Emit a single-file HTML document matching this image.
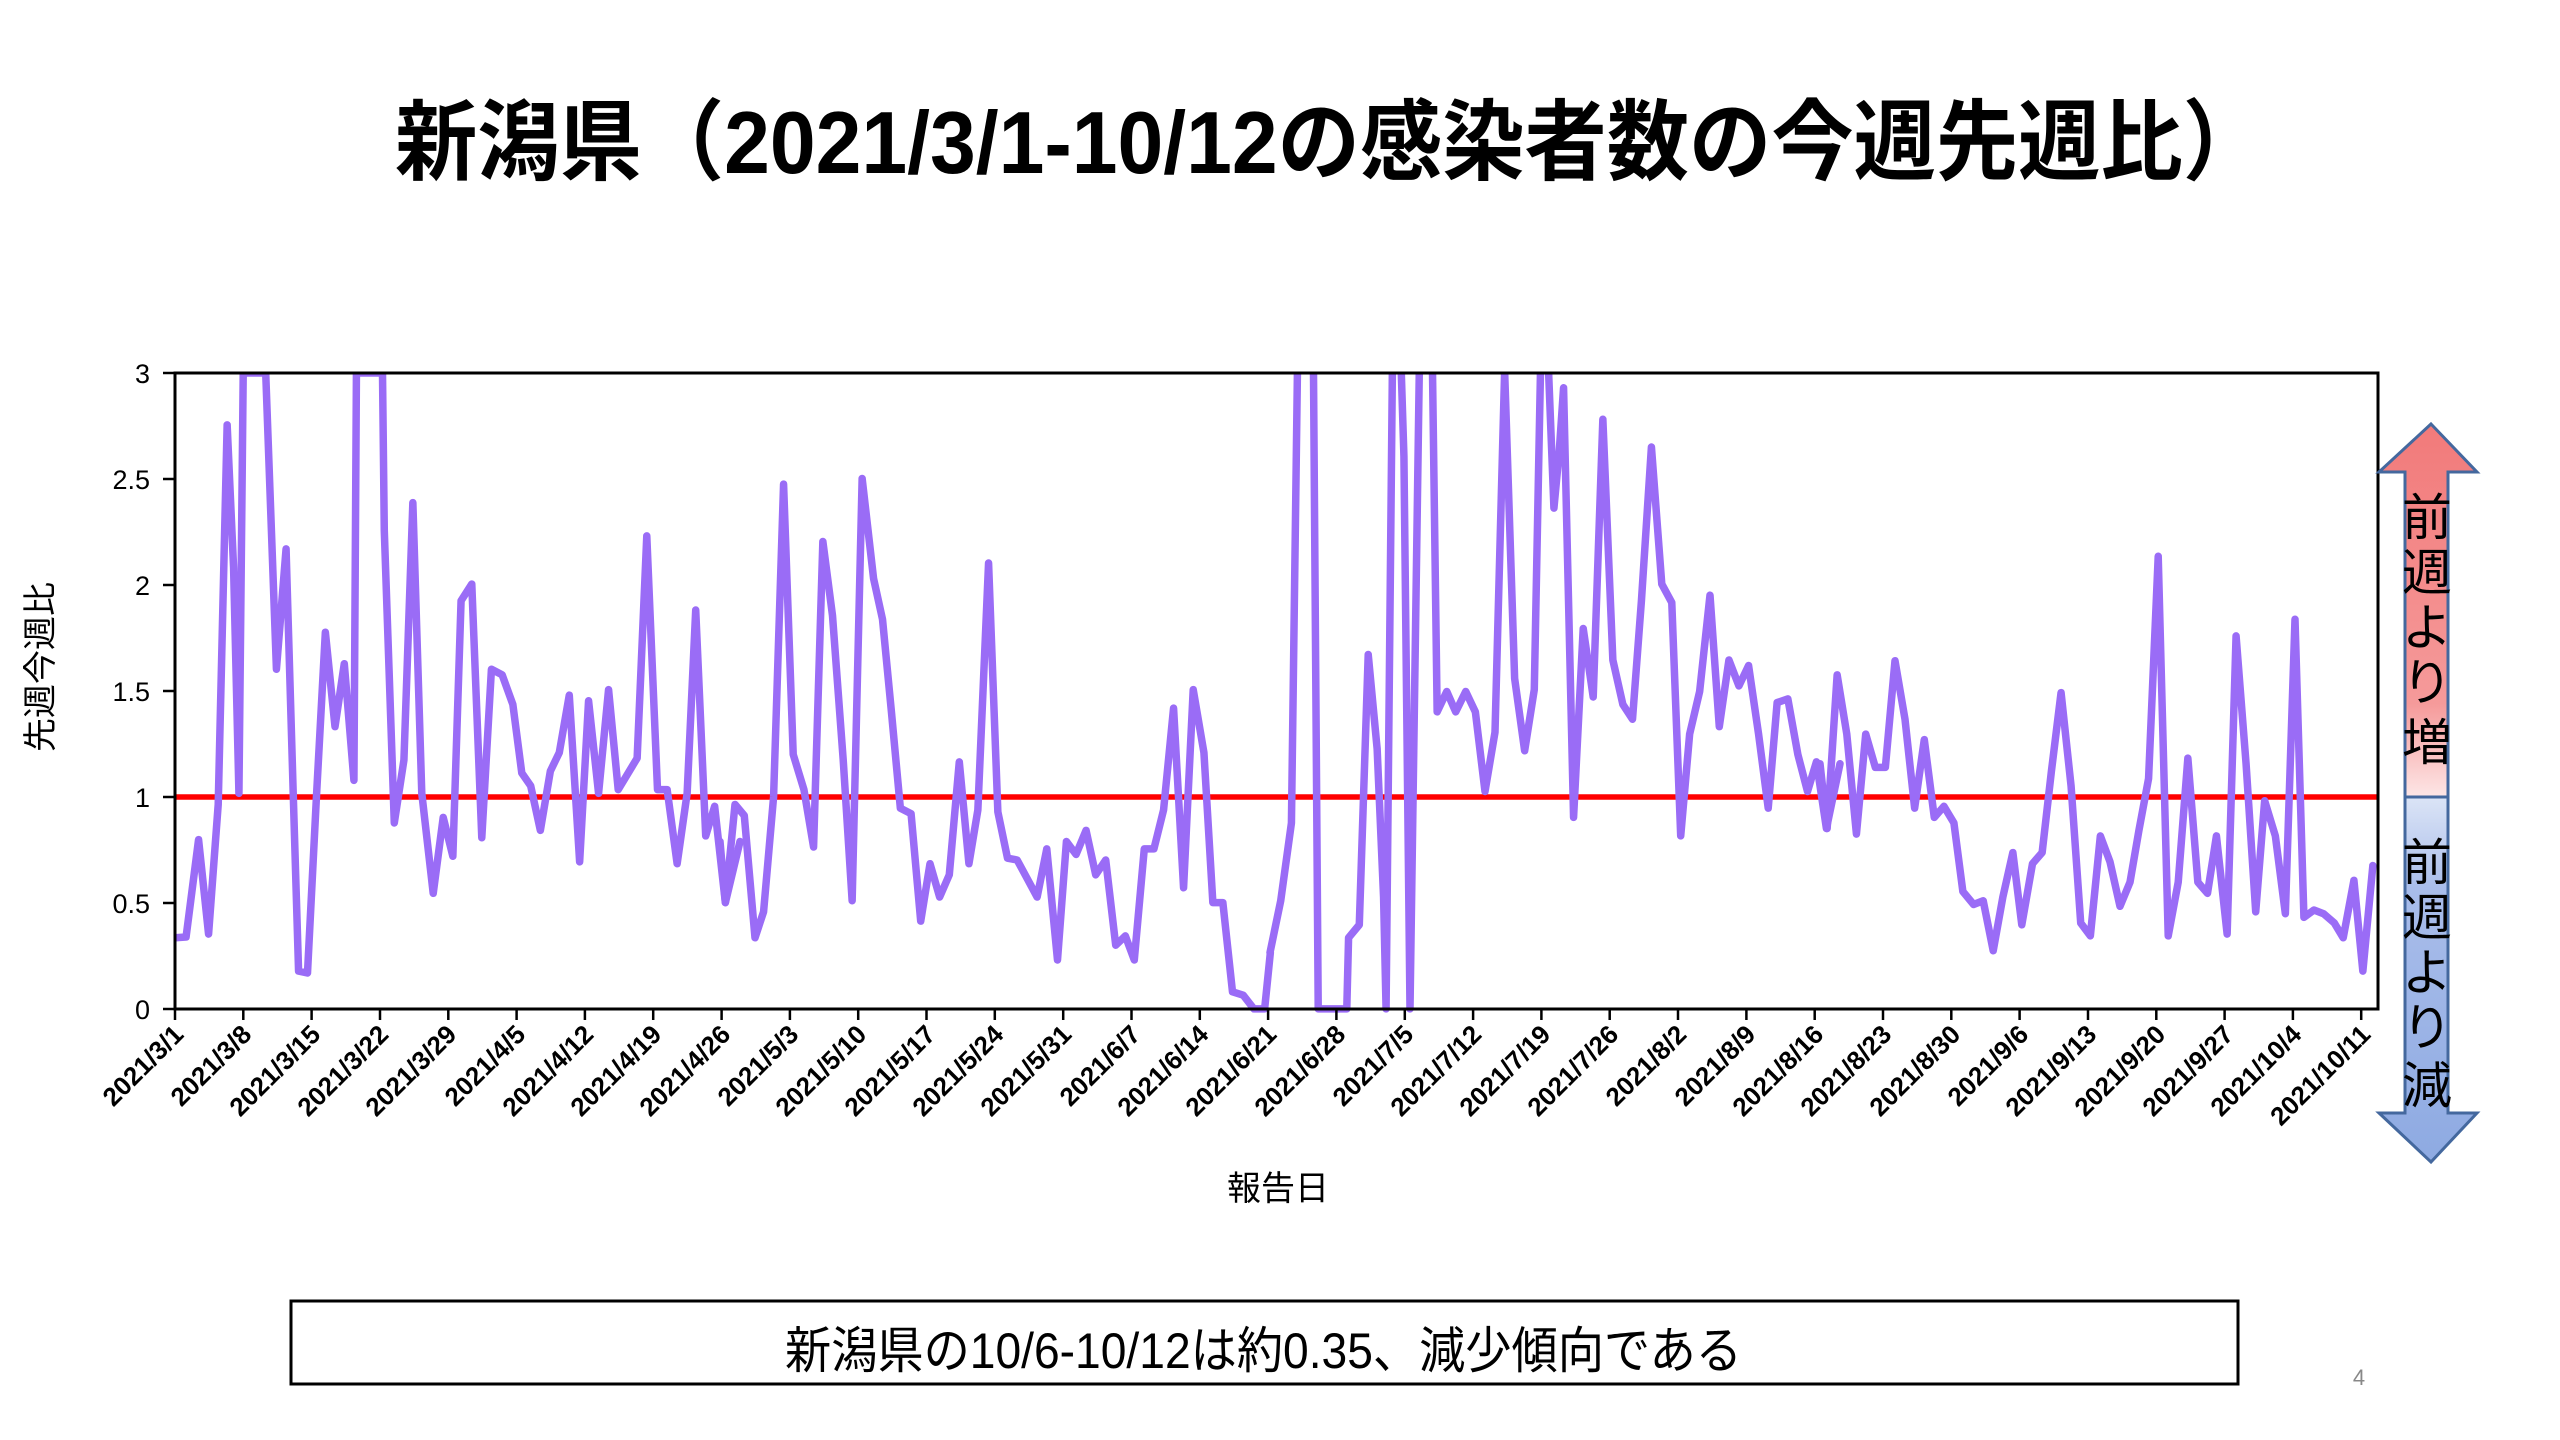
<!DOCTYPE html>
<html><head><meta charset="utf-8"><style>html,body{margin:0;padding:0;background:#fff}svg{display:block}</style></head>
<body>
<svg width="2560" height="1440" viewBox="0 0 2560 1440" xmlns="http://www.w3.org/2000/svg" font-family="'Liberation Sans','Noto Sans CJK JP',sans-serif">
<defs>
<clipPath id="pc"><rect x="175" y="373" width="2203" height="640"/></clipPath>
<linearGradient id="gr" x1="0" y1="0" x2="0" y2="1"><stop offset="0" stop-color="#f27a7a"/><stop offset="0.75" stop-color="#f59a9a"/><stop offset="1" stop-color="#fde6e6"/></linearGradient>
<linearGradient id="gb" x1="0" y1="0" x2="0" y2="1"><stop offset="0" stop-color="#dbe4f6"/><stop offset="0.25" stop-color="#a9bdea"/><stop offset="1" stop-color="#8eaae2"/></linearGradient>
</defs>
<text x="395" y="173" font-size="88" font-weight="bold" textLength="1870" lengthAdjust="spacingAndGlyphs">新潟県（2021/3/1-10/12の感染者数の今週先週比）</text>

<g font-size="27" text-anchor="end" fill="#000">
<text x="150" y="1019">0</text><text x="150" y="913">0.5</text><text x="150" y="807">1</text>
<text x="150" y="701">1.5</text><text x="150" y="595">2</text><text x="150" y="489">2.5</text><text x="150" y="383">3</text>
</g>
<g stroke="#000" stroke-width="2.5">
<line x1="163" y1="1009" x2="175" y2="1009"/><line x1="163" y1="903" x2="175" y2="903"/><line x1="163" y1="797" x2="175" y2="797"/>
<line x1="163" y1="691" x2="175" y2="691"/><line x1="163" y1="585" x2="175" y2="585"/><line x1="163" y1="479" x2="175" y2="479"/><line x1="163" y1="373" x2="175" y2="373"/>
</g>
<text transform="translate(52,667) rotate(-90)" font-size="34" text-anchor="middle">先週今週比</text>
<text x="1278" y="1200" font-size="34" text-anchor="middle">報告日</text>

<g clip-path="url(#pc)" fill="none" stroke="#9a6cf6" stroke-width="7.5" stroke-linejoin="round" stroke-linecap="round">
<line x1="175" y1="797" x2="2378" y2="797" stroke="#ff0000" stroke-width="5.5" stroke-linecap="butt"/>
<g transform="translate(170,360) scale(0.35714,0.37037)">
<polyline vector-effect="non-scaling-stroke" points="15,1560 45,1558 80,1295 108,1550 135,1200 160,175 178,560 193,1170 205,35 240,35 268,35 298,835 325,510 345,1170 360,1650 385,1655 410,1180 435,735 462,990 488,820 515,1135 522,35 595,35 600,460 628,1250 655,1080 680,385 705,1170 737,1440 765,1235 792,1340 815,650 845,605 873,1290 900,835 930,850 960,930 985,1115 1010,1150 1037,1270 1065,1110 1090,1060 1118,905 1147,1355 1172,920 1200,1170 1228,890 1255,1160 1308,1075 1335,475 1365,1160 1392,1160 1420,1360 1448,1170 1472,675 1500,1285 1525,1205 1555,1465 1596,1300"/>
</g>
<g transform="translate(720,360) scale(0.35714,0.37037)">
<polyline vector-effect="non-scaling-stroke" points="0,1300 15,1465 42,1200 68,1230 98,1560 122,1490 150,1180 178,335 205,1065 235,1160 262,1315 288,490 315,690 345,1080 370,1460 398,320 430,590 455,700 480,950 505,1210 535,1225 562,1515 588,1360 615,1450 642,1390 670,1085 697,1360 722,1215 752,548 778,1220 805,1345 832,1350 860,1400 888,1450 915,1320 945,1620 970,1300 997,1335 1025,1270 1052,1390 1080,1350 1108,1580 1135,1555 1160,1620 1188,1320 1215,1320 1242,1215 1270,940 1298,1425 1325,890 1355,1060 1380,1465 1408,1465 1435,1706 1465,1715 1495,1752 1525,1752 1541,1600"/>
</g>
<g transform="translate(1270,360) scale(0.35714,0.37037)">
<polyline vector-effect="non-scaling-stroke" points="0,1600 30,1460 60,1250 80,-200 120,-200 135,1752 215,1752 220,1560 250,1525 275,795 300,1050 318,1450 325,1752 345,-200 360,-200 375,260 392,1752 423,-300 455,30 468,950 495,895 520,950 548,895 575,950 602,1165 630,1005 657,30 685,860 713,1055 740,890 760,-100 780,30 795,400 810,245 822,75 850,1235 877,725 905,910 932,160 960,810 988,930 1015,970 1040,650 1068,235 1097,605 1125,655 1150,1285 1175,1010 1203,895 1232,635 1258,990 1285,810 1313,880 1340,825 1368,1010 1395,1210 1420,925 1450,915 1478,1065 1505,1165 1530,1085 1558,1265 1596,1090"/>
</g>
<g transform="translate(1820,360) scale(0.35714,0.37037)">
<polyline vector-effect="non-scaling-stroke" points="0,1090 20,1265 48,850 75,1010 102,1280 128,1010 155,1100 183,1100 210,812 238,970 265,1210 292,1025 320,1235 347,1205 375,1250 400,1435 430,1470 457,1460 485,1595 512,1450 540,1330 565,1525 595,1360 622,1330 648,1110 675,898 703,1150 730,1520 757,1555 785,1285 812,1355 840,1475 868,1410 893,1270 920,1130 947,530 975,1555 1003,1410 1030,1075 1058,1410 1085,1440 1110,1285 1140,1550 1165,745 1193,1090 1220,1490 1245,1190 1275,1285 1303,1495 1330,700 1355,1505 1383,1485 1410,1495 1440,1520 1465,1560 1495,1405 1520,1650 1548,1365"/>
</g>
</g>
<rect x="175" y="373" width="2203" height="636" fill="none" stroke="#000" stroke-width="3"/>

<path d="M2431,424 L2477,472 L2448,472 L2448,797 L2405,797 L2405,472 L2379,472 Z" fill="url(#gr)"/>
<path d="M2405,797 L2448,797 L2448,1113 L2477,1113 L2431,1162 L2379,1113 L2405,1113 Z" fill="url(#gb)"/>
<path d="M2431,424 L2477,472 L2448,472 L2448,1113 L2477,1113 L2431,1162 L2379,1113 L2405,1113 L2405,472 L2379,472 Z M2405,797 L2448,797" fill="none" stroke="#44689e" stroke-width="3"/>
<g font-size="50" text-anchor="middle" fill="#000">
<text x="2427" y="535">前</text><text x="2427" y="590">週</text><text x="2427" y="645">よ</text><text x="2427" y="700">り</text><text x="2427" y="760">増</text>
<text x="2427" y="880">前</text><text x="2427" y="935">週</text><text x="2427" y="990">よ</text><text x="2427" y="1045">り</text><text x="2427" y="1103">減</text>
</g>

<rect x="291" y="1301" width="1947" height="83" fill="none" stroke="#000" stroke-width="3"/>
<text x="785" y="1368" font-size="50" textLength="957" lengthAdjust="spacingAndGlyphs">新潟県の10/6-10/12は約0.35、減少傾向である</text>
<text x="2359" y="1385" font-size="22" fill="#888" text-anchor="middle">4</text>

<g stroke="#000" stroke-width="2.5">
<line x1="175.0" y1="1009" x2="175.0" y2="1020"/><line x1="243.3" y1="1009" x2="243.3" y2="1020"/><line x1="311.6" y1="1009" x2="311.6" y2="1020"/><line x1="380.0" y1="1009" x2="380.0" y2="1020"/><line x1="448.3" y1="1009" x2="448.3" y2="1020"/><line x1="516.6" y1="1009" x2="516.6" y2="1020"/><line x1="584.9" y1="1009" x2="584.9" y2="1020"/><line x1="653.2" y1="1009" x2="653.2" y2="1020"/><line x1="721.6" y1="1009" x2="721.6" y2="1020"/><line x1="789.9" y1="1009" x2="789.9" y2="1020"/><line x1="858.2" y1="1009" x2="858.2" y2="1020"/><line x1="926.5" y1="1009" x2="926.5" y2="1020"/><line x1="994.8" y1="1009" x2="994.8" y2="1020"/><line x1="1063.2" y1="1009" x2="1063.2" y2="1020"/><line x1="1131.5" y1="1009" x2="1131.5" y2="1020"/><line x1="1199.8" y1="1009" x2="1199.8" y2="1020"/><line x1="1268.1" y1="1009" x2="1268.1" y2="1020"/><line x1="1336.4" y1="1009" x2="1336.4" y2="1020"/><line x1="1404.8" y1="1009" x2="1404.8" y2="1020"/><line x1="1473.1" y1="1009" x2="1473.1" y2="1020"/><line x1="1541.4" y1="1009" x2="1541.4" y2="1020"/><line x1="1609.7" y1="1009" x2="1609.7" y2="1020"/><line x1="1678.0" y1="1009" x2="1678.0" y2="1020"/><line x1="1746.4" y1="1009" x2="1746.4" y2="1020"/><line x1="1814.7" y1="1009" x2="1814.7" y2="1020"/><line x1="1883.0" y1="1009" x2="1883.0" y2="1020"/><line x1="1951.3" y1="1009" x2="1951.3" y2="1020"/><line x1="2019.6" y1="1009" x2="2019.6" y2="1020"/><line x1="2088.0" y1="1009" x2="2088.0" y2="1020"/><line x1="2156.3" y1="1009" x2="2156.3" y2="1020"/><line x1="2224.6" y1="1009" x2="2224.6" y2="1020"/><line x1="2292.9" y1="1009" x2="2292.9" y2="1020"/><line x1="2361.2" y1="1009" x2="2361.2" y2="1020"/>
</g>
<g font-size="26" font-weight="bold" text-anchor="end">
<text transform="translate(185,1036) rotate(-45)">2021/3/1</text>
<text transform="translate(253,1036) rotate(-45)">2021/3/8</text>
<text transform="translate(322,1036) rotate(-45)">2021/3/15</text>
<text transform="translate(390,1036) rotate(-45)">2021/3/22</text>
<text transform="translate(458,1036) rotate(-45)">2021/3/29</text>
<text transform="translate(527,1036) rotate(-45)">2021/4/5</text>
<text transform="translate(595,1036) rotate(-45)">2021/4/12</text>
<text transform="translate(663,1036) rotate(-45)">2021/4/19</text>
<text transform="translate(732,1036) rotate(-45)">2021/4/26</text>
<text transform="translate(800,1036) rotate(-45)">2021/5/3</text>
<text transform="translate(868,1036) rotate(-45)">2021/5/10</text>
<text transform="translate(937,1036) rotate(-45)">2021/5/17</text>
<text transform="translate(1005,1036) rotate(-45)">2021/5/24</text>
<text transform="translate(1073,1036) rotate(-45)">2021/5/31</text>
<text transform="translate(1142,1036) rotate(-45)">2021/6/7</text>
<text transform="translate(1210,1036) rotate(-45)">2021/6/14</text>
<text transform="translate(1278,1036) rotate(-45)">2021/6/21</text>
<text transform="translate(1347,1036) rotate(-45)">2021/6/28</text>
<text transform="translate(1415,1036) rotate(-45)">2021/7/5</text>
<text transform="translate(1483,1036) rotate(-45)">2021/7/12</text>
<text transform="translate(1552,1036) rotate(-45)">2021/7/19</text>
<text transform="translate(1620,1036) rotate(-45)">2021/7/26</text>
<text transform="translate(1688,1036) rotate(-45)">2021/8/2</text>
<text transform="translate(1757,1036) rotate(-45)">2021/8/9</text>
<text transform="translate(1825,1036) rotate(-45)">2021/8/16</text>
<text transform="translate(1893,1036) rotate(-45)">2021/8/23</text>
<text transform="translate(1962,1036) rotate(-45)">2021/8/30</text>
<text transform="translate(2030,1036) rotate(-45)">2021/9/6</text>
<text transform="translate(2098,1036) rotate(-45)">2021/9/13</text>
<text transform="translate(2167,1036) rotate(-45)">2021/9/20</text>
<text transform="translate(2235,1036) rotate(-45)">2021/9/27</text>
<text transform="translate(2303,1036) rotate(-45)">2021/10/4</text>
<text transform="translate(2372,1036) rotate(-45)">2021/10/11</text>
</g>
</svg>
</body></html>
